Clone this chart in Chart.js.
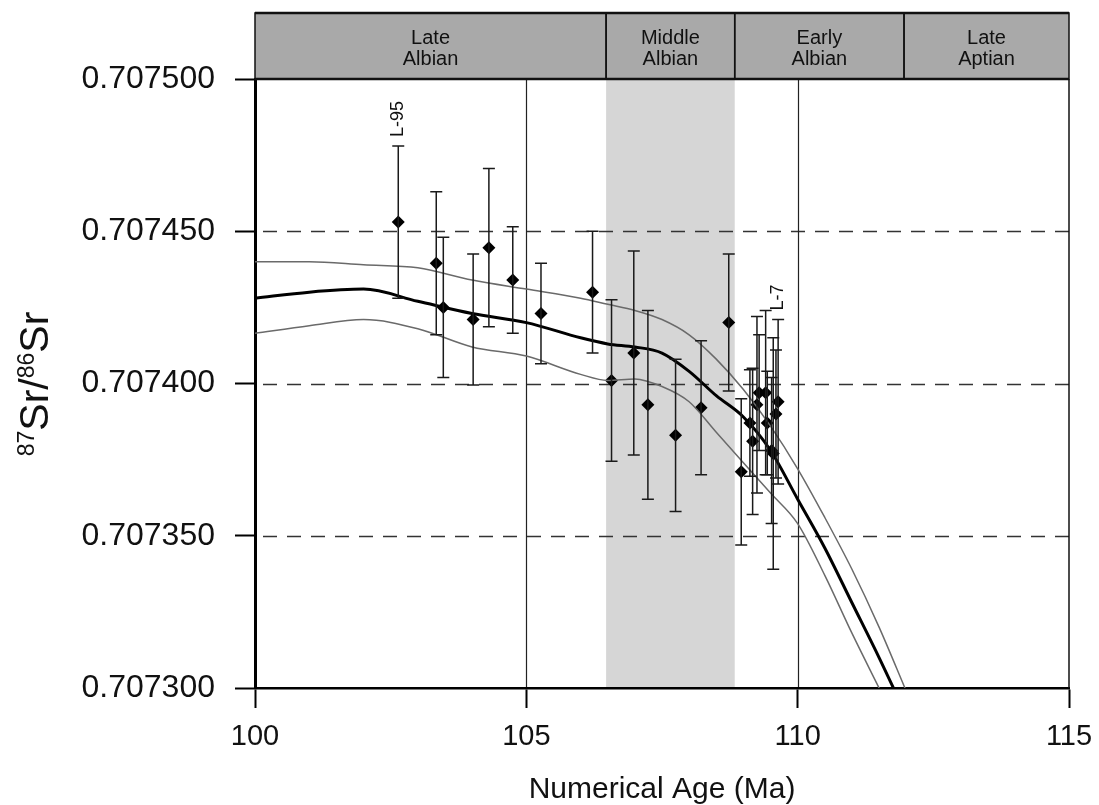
<!DOCTYPE html>
<html>
<head>
  <meta charset="UTF-8">
  <title>87Sr/86Sr vs Numerical Age</title>
  <script src="https://cdn.jsdelivr.net/npm/chart.js"></script>
  <style>
    body { margin: 0; background: #fff; }
    #chart-container { width: 1099px; height: 805px; }
  </style>
</head>
<body>
  <div id="chart-container">
    <canvas id="myChart"></canvas>
  </div>
  <script>
    // samples: age (Ma), ratio, 2-sigma error
    const sampleAges = [
      102.64, 103.34, 103.47, 104.02, 104.31, 104.75, 105.27, 106.22, 106.57, 106.98,
      107.24, 107.75, 108.22, 108.73, 108.96, 109.12, 109.17, 109.25, 109.29, 109.41,
      109.44, 109.52, 109.55, 109.60, 109.64
    ];
    const sampleRatios = [
      0.707453, 0.7074395, 0.707425, 0.707421, 0.7074446, 0.707434, 0.707423, 0.707430, 0.707401, 0.707410,
      0.707393, 0.707383, 0.707392, 0.707420, 0.707371, 0.707387, 0.707381, 0.707393, 0.707397, 0.707397,
      0.707387, 0.707378, 0.707377, 0.707390, 0.707394
    ];
    const sampleErrors = [
      0.000025, 0.0000235, 0.000023, 0.0000215, 0.000026, 0.0000175, 0.0000165, 0.000020, 0.0000265, 0.0000335,
      0.000031, 0.000025, 0.000022, 0.0000225, 0.000024, 0.0000175, 0.000024, 0.000029, 0.000019, 0.000027,
      0.000017, 0.000024, 0.000038, 0.000021, 0.000027
    ];
    const labelledSamples = [0, 24];
    const labelTexts = ['L-95', 'L-7'];

    // LOWESS curve with upper/lower confidence limits
    const curveAges = [100, 101, 102, 103, 104, 105, 106, 106.5, 107, 107.5, 108, 108.5, 109, 109.5, 110, 110.5, 111, 111.5, 112];
    const curveMean = [
      0.707428, 0.707430, 0.707431, 0.707427, 0.707423, 0.707420, 0.707415, 0.707413, 0.707412, 0.707410,
      0.707404, 0.707396, 0.707389, 0.707378, 0.707362, 0.707346, 0.707328, 0.707310, 0.707291
    ];
    const curveUpper = [
      0.707440, 0.707440, 0.707439, 0.707438, 0.707434, 0.707431, 0.707428, 0.707426, 0.707424, 0.707421,
      0.707416, 0.707408, 0.707398, 0.707386, 0.707372, 0.707356, 0.707339, 0.707320, 0.707299
    ];
    const curveLower = [
      0.7074165, 0.707419, 0.707421, 0.707418, 0.707412, 0.707409, 0.707403, 0.707401, 0.7074015, 0.707399,
      0.707394, 0.707384, 0.707374, 0.707364, 0.707354, 0.707337, 0.707318, 0.707300, 0.707282
    ];

    // stages (top band), boundaries in Ma
    const stageNames = [['Late', 'Albian'], ['Middle', 'Albian'], ['Early', 'Albian'], ['Late', 'Aptian']];
    const stageBounds = [100, 106.47, 108.84, 111.96, 115];
    const shadedStage = 1;

    const xTicks = [100, 105, 110, 115];
    const yTicks = [0.7073, 0.70735, 0.7074, 0.70745, 0.7075];
    const dashedLevels = [0.70735, 0.7074, 0.70745];
    const solidAges = [105, 110];

    const FONT = '"Liberation Sans", Arial, sans-serif';

    const toPts = (xs, ys) => xs.map((x, i) => ({ x: x, y: ys[i] }));

    const decorations = {
      id: 'decorations',
      beforeDraw(chart) {
        const { ctx, chartArea: a, scales: { x, y } } = chart;
        ctx.save();
        // Middle Albian shading
        const x0 = x.getPixelForValue(stageBounds[shadedStage]);
        const x1 = x.getPixelForValue(stageBounds[shadedStage + 1]);
        ctx.fillStyle = '#d6d6d6';
        ctx.fillRect(x0, a.top, x1 - x0, a.bottom - a.top);
        // dashed levels
        ctx.strokeStyle = '#333';
        ctx.lineWidth = 1.5;
        ctx.setLineDash([14, 10]);
        dashedLevels.forEach(v => {
          const py = Math.round(y.getPixelForValue(v)) + 0.5;
          ctx.beginPath();
          ctx.moveTo(a.left + 8, py);
          ctx.lineTo(a.right, py);
          ctx.stroke();
        });
        ctx.setLineDash([]);
        // vertical age lines
        ctx.strokeStyle = '#222';
        ctx.lineWidth = 1.2;
        solidAges.forEach(v => {
          const px = Math.round(x.getPixelForValue(v)) + 0.5;
          ctx.beginPath();
          ctx.moveTo(px, a.top);
          ctx.lineTo(px, a.bottom);
          ctx.stroke();
        });
        ctx.restore();
      },
      afterDatasetsDraw(chart) {
        const { ctx, scales: { x, y } } = chart;
        ctx.save();
        ctx.strokeStyle = '#1a1a1a';
        ctx.lineWidth = 1.5;
        sampleAges.forEach((age, i) => {
          const px = x.getPixelForValue(age);
          const top = y.getPixelForValue(sampleRatios[i] + sampleErrors[i]);
          const bot = y.getPixelForValue(sampleRatios[i] - sampleErrors[i]);
          ctx.beginPath();
          ctx.moveTo(px, top); ctx.lineTo(px, bot);
          ctx.moveTo(px - 6, top); ctx.lineTo(px + 6, top);
          ctx.moveTo(px - 6, bot); ctx.lineTo(px + 6, bot);
          ctx.stroke();
        });
        // sample labels
        ctx.fillStyle = '#111';
        ctx.font = '18px ' + FONT;
        ctx.textAlign = 'left';
        ctx.textBaseline = 'middle';
        labelledSamples.forEach((idx, k) => {
          const px = x.getPixelForValue(sampleAges[idx]);
          const top = y.getPixelForValue(sampleRatios[idx] + sampleErrors[idx]);
          ctx.save();
          ctx.translate(px, top - 9);
          ctx.rotate(-Math.PI / 2);
          ctx.fillText(labelTexts[k], 0, 0);
          ctx.restore();
        });
        ctx.restore();
      },
      afterDraw(chart) {
        const { ctx, chartArea: a, scales: { x } } = chart;
        ctx.save();
        // right frame line
        ctx.strokeStyle = '#111';
        ctx.lineWidth = 1.5;
        ctx.beginPath();
        ctx.moveTo(a.right, a.top);
        ctx.lineTo(a.right, a.bottom);
        ctx.stroke();
        // stage band
        const bandTop = 13, bandBot = a.top;
        ctx.fillStyle = '#a9a9a9';
        ctx.fillRect(a.left, bandTop, a.right - a.left, bandBot - bandTop);
        ctx.strokeStyle = '#111';
        ctx.lineWidth = 1.5;
        for (let i = 0; i < stageNames.length; i++) {
          const sx0 = x.getPixelForValue(stageBounds[i]);
          const sx1 = x.getPixelForValue(stageBounds[i + 1]);
          ctx.strokeRect(sx0, bandTop, sx1 - sx0, bandBot - bandTop);
          ctx.fillStyle = '#111';
          ctx.font = '20px ' + FONT;
          ctx.textAlign = 'center';
          ctx.textBaseline = 'middle';
          ctx.fillText(stageNames[i][0], (sx0 + sx1) / 2, bandTop + 25);
          ctx.fillText(stageNames[i][1], (sx0 + sx1) / 2, bandTop + 46);
        }
        ctx.lineWidth = 2.5;
        ctx.beginPath();
        ctx.moveTo(a.left, bandTop); ctx.lineTo(a.right, bandTop);
        ctx.moveTo(a.left, bandBot); ctx.lineTo(a.right, bandBot);
        ctx.stroke();
        // x title
        ctx.fillStyle = '#111';
        ctx.font = '30px ' + FONT;
        ctx.textAlign = 'center';
        ctx.textBaseline = 'middle';
        ctx.fillText('Numerical Age (Ma)', (a.left + a.right) / 2, 790);
        // y title 87Sr/86Sr
        const big = '41px ' + FONT, small = '23px ' + FONT;
        const parts = [['87', small, true], ['Sr/', big, false], ['86', small, true], ['Sr', big, false]];
        let total = 0;
        parts.forEach(p => { ctx.font = p[1]; total += ctx.measureText(p[0]).width; });
        ctx.translate(48, 384);
        ctx.rotate(-Math.PI / 2);
        ctx.textAlign = 'left';
        ctx.textBaseline = 'alphabetic';
        let cx = -total / 2;
        parts.forEach(p => {
          ctx.font = p[1];
          ctx.fillText(p[0], cx, p[2] ? -14 : 0);
          cx += ctx.measureText(p[0]).width;
        });
        ctx.restore();
      }
    };

    const config = {
      type: 'scatter',
      data: {
        datasets: [
          {
            type: 'line',
            data: toPts(curveAges, curveUpper),
            borderColor: '#6a6a6a',
            borderWidth: 1.5,
            pointRadius: 0,
            cubicInterpolationMode: 'monotone',
            clip: 0
          },
          {
            type: 'line',
            data: toPts(curveAges, curveLower),
            borderColor: '#6a6a6a',
            borderWidth: 1.5,
            pointRadius: 0,
            cubicInterpolationMode: 'monotone',
            clip: 0
          },
          {
            type: 'line',
            data: toPts(curveAges, curveMean),
            borderColor: '#000',
            borderWidth: 3,
            pointRadius: 0,
            cubicInterpolationMode: 'monotone',
            clip: 0
          },
          {
            data: toPts(sampleAges, sampleRatios),
            pointStyle: 'rectRot',
            pointRadius: 6.5,
            backgroundColor: '#000',
            borderColor: '#000',
            borderWidth: 0
          }
        ]
      },
      options: {
        responsive: true,
        maintainAspectRatio: false,
        animation: false,
        layout: { padding: { top: 79, right: 30, left: 0, bottom: 0 } },
        plugins: { legend: { display: false }, tooltip: { enabled: false } },
        scales: {
          x: {
            type: 'linear',
            min: 100, max: 115,
            afterBuildTicks: s => { s.ticks = xTicks.map(v => ({ value: v })); },
            afterFit: s => { s.height = 117; s.paddingLeft = 0; s.paddingRight = 0; },
            grid: { drawOnChartArea: false, drawTicks: true, tickLength: 20, tickColor: '#000', tickWidth: 2, color: '#000' },
            border: { color: '#000', width: 2.5 },
            ticks: { color: '#111', font: { family: FONT, size: 29 }, padding: 12, maxRotation: 0 }
          },
          y: {
            type: 'linear',
            min: 0.7073, max: 0.7075,
            afterBuildTicks: s => { s.ticks = yTicks.map(v => ({ value: v })); },
            afterFit: s => { s.width = 255; s.paddingTop = 0; s.paddingBottom = 0; },
            grid: { drawOnChartArea: false, drawTicks: true, tickLength: 20, tickColor: '#000', tickWidth: 2, color: '#000' },
            border: { color: '#000', width: 3 },
            ticks: {
              color: '#111', font: { family: FONT, size: 32 }, padding: 20,
              callback: v => v.toFixed(6)
            }
          }
        }
      },
      plugins: [decorations]
    };

    new Chart(document.getElementById('myChart'), config);
  </script>
</body>
</html>
